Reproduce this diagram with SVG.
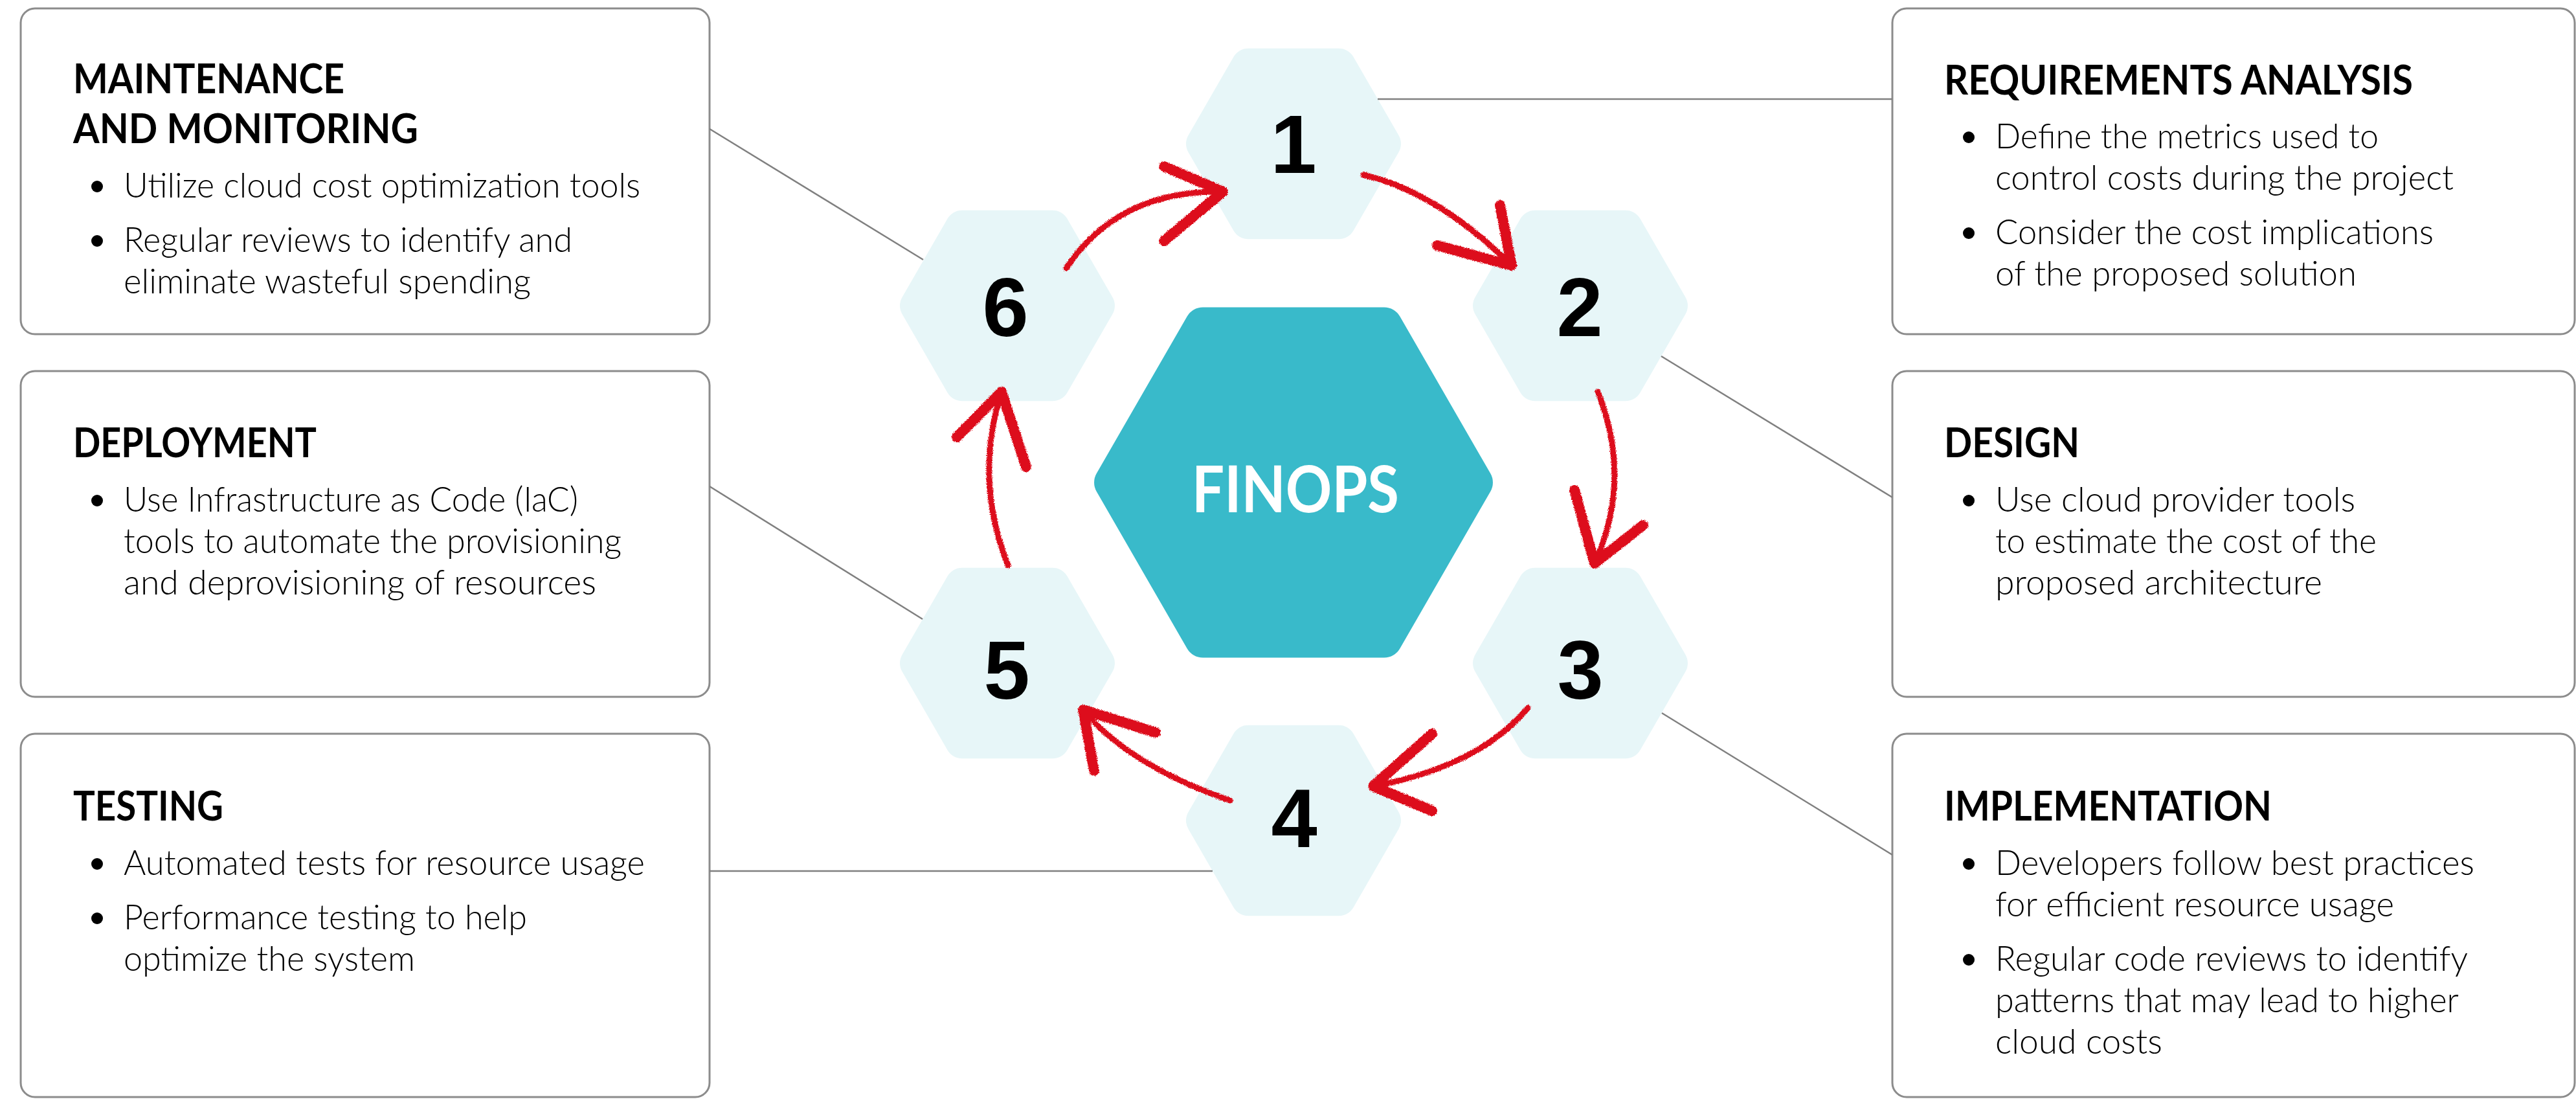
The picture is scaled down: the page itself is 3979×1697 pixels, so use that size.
<svg xmlns="http://www.w3.org/2000/svg" width="3979" height="1697" viewBox="0 0 3979 1697">
<style>
.box{fill:#fff;stroke:#8c8c8c;stroke-width:3}
.ttl{font-family:Lato,"Liberation Sans",sans-serif;font-weight:700;font-size:64px;fill:#000}
.txt{font-family:Lato,"Liberation Sans",sans-serif;font-weight:300;font-size:54px;fill:#000}
.dot{fill:#000}
.hex{fill:#E7F6F8}
.core{fill:#39BACA}
.num{font-family:"Liberation Sans",Arial,sans-serif;font-weight:700;font-size:128px;text-anchor:middle;fill:#000}
.fin{font-family:Lato,"Liberation Sans",sans-serif;font-weight:700;font-size:100px;fill:#fff}
.link{stroke:#808080;stroke-width:2.5;fill:none}
.arr{stroke:#DD0F1D;fill:none;stroke-linecap:round;stroke-linejoin:round}
.shaft{stroke-width:9}
.head{stroke-width:16}
</style>
<defs>
<path id="hexS" d="M-70,-147.2 L70,-147.2 A26,26 0 0 1 92.5,-134.2 L162.5,-13 A26,26 0 0 1 162.5,13 L92.5,134.2 A26,26 0 0 1 70,147.2 L-70,147.2 A26,26 0 0 1 -92.5,134.2 L-162.5,13 A26,26 0 0 1 -162.5,-13 L-92.5,-134.2 A26,26 0 0 1 -70,-147.2 Z"/>
<path id="hexL" d="M-140,-270.5 L140,-270.5 A28,28 0 0 1 164.3,-256.5 L304.2,-14 A28,28 0 0 1 304.2,14 L164.3,256.5 A28,28 0 0 1 140,270.5 L-140,270.5 A28,28 0 0 1 -164.3,256.5 L-304.2,14 A28,28 0 0 1 -304.2,-14 L-164.3,-256.5 A28,28 0 0 1 -140,-270.5 Z"/>
<filter id="crayon" x="-20%" y="-20%" width="140%" height="140%">
<feTurbulence type="fractalNoise" baseFrequency="0.9" numOctaves="2" result="n"/>
<feDisplacementMap in="SourceGraphic" in2="n" scale="5" xChannelSelector="R" yChannelSelector="G"/>
</filter>
</defs>
<rect width="3979" height="1697" fill="#fff"/>

<g id="box-maintenance">
<rect class="box" x="32" y="13" width="1064" height="503" rx="22"/>
<text class="ttl" x="113" y="144" textLength="419" lengthAdjust="spacingAndGlyphs">MAINTENANCE</text>
<text class="ttl" x="113" y="221" textLength="533" lengthAdjust="spacingAndGlyphs">AND MONITORING</text>
<circle class="dot" cx="150" cy="288" r="9"/>
<text class="txt" x="191" y="305" textLength="798" lengthAdjust="spacingAndGlyphs">Utilize cloud cost optimization tools</text>
<circle class="dot" cx="150" cy="372" r="9"/>
<text class="txt" x="191" y="389" textLength="693" lengthAdjust="spacingAndGlyphs">Regular reviews to identify and</text>
<text class="txt" x="191" y="453" textLength="629" lengthAdjust="spacingAndGlyphs">eliminate wasteful spending</text>
</g>

<g id="box-deployment">
<rect class="box" x="32" y="573" width="1064" height="503" rx="22"/>
<text class="ttl" x="113" y="706" textLength="376" lengthAdjust="spacingAndGlyphs">DEPLOYMENT</text>
<circle class="dot" cx="150" cy="773" r="9"/>
<text class="txt" x="191" y="790" textLength="702" lengthAdjust="spacingAndGlyphs">Use Infrastructure as Code (IaC)</text>
<text class="txt" x="191" y="854" textLength="769" lengthAdjust="spacingAndGlyphs">tools to automate the provisioning</text>
<text class="txt" x="191" y="918" textLength="730" lengthAdjust="spacingAndGlyphs">and deprovisioning of resources</text>
</g>

<g id="box-testing">
<rect class="box" x="32" y="1133" width="1064" height="561" rx="22"/>
<text class="ttl" x="113" y="1267" textLength="232" lengthAdjust="spacingAndGlyphs">TESTING</text>
<circle class="dot" cx="150" cy="1334" r="9"/>
<text class="txt" x="191" y="1351" textLength="805" lengthAdjust="spacingAndGlyphs">Automated tests for resource usage</text>
<circle class="dot" cx="150" cy="1418" r="9"/>
<text class="txt" x="191" y="1435" textLength="623" lengthAdjust="spacingAndGlyphs">Performance testing to help</text>
<text class="txt" x="191" y="1499" textLength="450" lengthAdjust="spacingAndGlyphs">optimize the system</text>
</g>

<g id="box-requirements">
<rect class="box" x="2923" y="13" width="1054" height="503" rx="22"/>
<text class="ttl" x="3003" y="146" textLength="724" lengthAdjust="spacingAndGlyphs">REQUIREMENTS ANALYSIS</text>
<circle class="dot" cx="3041" cy="212" r="9"/>
<text class="txt" x="3082" y="229" textLength="592" lengthAdjust="spacingAndGlyphs">Define the metrics used to</text>
<text class="txt" x="3082" y="293" textLength="708" lengthAdjust="spacingAndGlyphs">control costs during the project</text>
<circle class="dot" cx="3041" cy="360" r="9"/>
<text class="txt" x="3082" y="377" textLength="677" lengthAdjust="spacingAndGlyphs">Consider the cost implications</text>
<text class="txt" x="3082" y="441" textLength="558" lengthAdjust="spacingAndGlyphs">of the proposed solution</text>
</g>

<g id="box-design">
<rect class="box" x="2923" y="573" width="1054" height="503" rx="22"/>
<text class="ttl" x="3003" y="706" textLength="209" lengthAdjust="spacingAndGlyphs">DESIGN</text>
<circle class="dot" cx="3041" cy="773" r="9"/>
<text class="txt" x="3082" y="790" textLength="556" lengthAdjust="spacingAndGlyphs">Use cloud provider tools</text>
<text class="txt" x="3082" y="854" textLength="589" lengthAdjust="spacingAndGlyphs">to estimate the cost of the</text>
<text class="txt" x="3082" y="918" textLength="505" lengthAdjust="spacingAndGlyphs">proposed architecture</text>
</g>

<g id="box-implementation">
<rect class="box" x="2923" y="1133" width="1054" height="561" rx="22"/>
<text class="ttl" x="3003" y="1267" textLength="506" lengthAdjust="spacingAndGlyphs">IMPLEMENTATION</text>
<circle class="dot" cx="3041" cy="1334" r="9"/>
<text class="txt" x="3082" y="1351" textLength="740" lengthAdjust="spacingAndGlyphs">Developers follow best practices</text>
<text class="txt" x="3082" y="1415" textLength="616" lengthAdjust="spacingAndGlyphs">for efficient resource usage</text>
<circle class="dot" cx="3041" cy="1482" r="9"/>
<text class="txt" x="3082" y="1499" textLength="730" lengthAdjust="spacingAndGlyphs">Regular code reviews to identify</text>
<text class="txt" x="3082" y="1563" textLength="716" lengthAdjust="spacingAndGlyphs">patterns that may lead to higher</text>
<text class="txt" x="3082" y="1627" textLength="258" lengthAdjust="spacingAndGlyphs">cloud costs</text>
</g>

<g id="finops">
<use href="#hexL" class="core" transform="translate(1998,745)"/>
<text class="fin" x="1841" y="791" textLength="320" lengthAdjust="spacingAndGlyphs">FINOPS</text>
</g>
<g id="step-1"><use href="#hexS" class="hex" transform="translate(1998,222)"/><text class="num" x="1998" y="267">1</text></g>
<g id="step-2"><use href="#hexS" class="hex" transform="translate(2441,472)"/><text class="num" x="2440" y="519">2</text></g>
<g id="step-3"><use href="#hexS" class="hex" transform="translate(2441,1024)"/><text class="num" x="2441" y="1079">3</text></g>
<g id="step-4"><use href="#hexS" class="hex" transform="translate(1998,1267)"/><text class="num" x="1999" y="1308">4</text></g>
<g id="step-5"><use href="#hexS" class="hex" transform="translate(1556,1024)"/><text class="num" x="1555" y="1079">5</text></g>
<g id="step-6"><use href="#hexS" class="hex" transform="translate(1556,472)"/><text class="num" x="1553" y="519">6</text></g>

<g id="connectors">
<line class="link" x1="1096" y1="199" x2="1426" y2="401"/>
<line class="link" x1="1096" y1="751" x2="1425" y2="956"/>
<line class="link" x1="1096" y1="1345" x2="1873" y2="1345"/>
<line class="link" x1="2128" y1="153" x2="2923" y2="153"/>
<line class="link" x1="2566" y1="550" x2="2923" y2="768"/>
<line class="link" x1="2567" y1="1101" x2="2923" y2="1320"/>
<g class="arr" filter="url(#crayon)">
<path class="shaft" d="M1647,414 Q1728,293 1889,296"/>
<path class="head" d="M1798,257 L1889,296 L1798,372"/>
</g>
<g class="arr" filter="url(#crayon)">
<path class="shaft" d="M2106,270 Q2220,296 2335,410"/>
<path class="head" d="M2317,317 L2335,410 L2220,379"/>
</g>
<g class="arr" filter="url(#crayon)">
<path class="shaft" d="M2468,605 Q2522,740 2463,870"/>
<path class="head" d="M2432,757 L2463,870 L2538,811"/>
</g>
<g class="arr" filter="url(#crayon)">
<path class="shaft" d="M2360,1093 Q2284,1184 2121,1214"/>
<path class="head" d="M2212,1133 L2121,1214 L2212,1252"/>
</g>
<g class="arr" filter="url(#crayon)">
<path class="shaft" d="M1900,1236 Q1744,1182 1673,1096"/>
<path class="head" d="M1785,1131 L1673,1096 L1690,1190"/>
</g>
<g class="arr" filter="url(#crayon)">
<path class="shaft" d="M1557,873 Q1504,739 1547,605"/>
<path class="head" d="M1478,675 L1547,605 L1585,721"/>
</g>
</g>
</svg>
